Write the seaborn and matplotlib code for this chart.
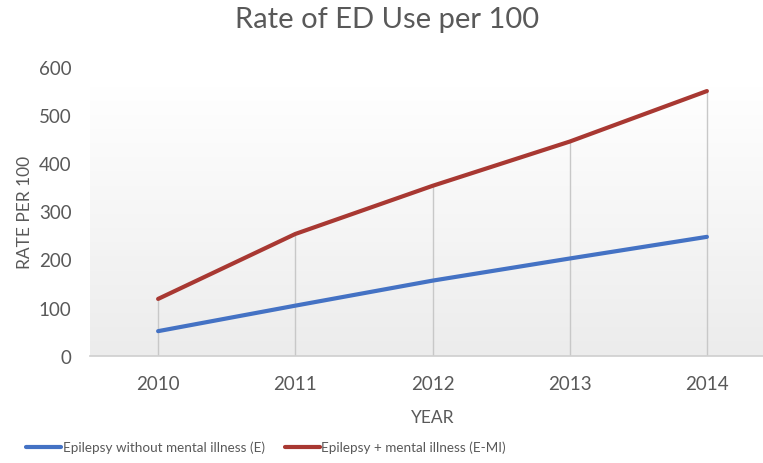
import numpy as np
import pandas as pd
import seaborn as sns
import matplotlib.pyplot as plt
from matplotlib.colors import LinearSegmentedColormap

# data
years = ["2010", "2011", "2012", "2013", "2014"]
rate_e = [51, 104, 156, 202, 247]
rate_emi = [118, 253, 353, 445, 550]
series_names = ["Epilepsy without mental illness (E)", "Epilepsy + mental illness (E-MI)"]
colors = ["#4472C4", "#A83832"]

df = pd.DataFrame({
    "year": years * 2,
    "rate": rate_e + rate_emi,
    "series": [series_names[0]] * len(years) + [series_names[1]] * len(years),
})

sns.set_theme(style="white")
plt.rcParams["font.family"] = ["Lato", "DejaVu Sans"]
txt = "#595959"

fig = plt.figure(figsize=(7.63, 4.64), dpi=100)
ax = fig.add_axes([89.5 / 763, 1 - 356.7 / 464, 686 / 763, 288.7 / 464])

# background gradient: light grey at the bottom fading to white at the top
grad = np.linspace(0, 1, 256).reshape(-1, 1)
bg = LinearSegmentedColormap.from_list("bg", ["#ECECEC", "#FFFFFF"])
ax.imshow(grad, cmap=bg, aspect="auto", extent=(-0.5, 4.5, 0, 560),
          origin="lower", zorder=0)

# drop lines from the upper series
ax.vlines(range(len(years)), 0, rate_emi, color="#C8C8C8", lw=1, zorder=1)

sns.lineplot(data=df, x="year", y="rate", hue="series", palette=colors,
             linewidth=3, ax=ax, zorder=3, sort=False)

ax.set_xlim(-0.5, 4.5)
ax.set_ylim(0, 600)
ax.set_yticks(range(0, 601, 100))
ax.tick_params(axis="both", length=0, labelsize=13.5, colors=txt)
ax.tick_params(axis="x", pad=14)
ax.tick_params(axis="y", pad=13)
for s in ["top", "right", "left"]:
    ax.spines[s].set_visible(False)
ax.spines["bottom"].set_color("#D0D0D0")
ax.grid(False)

ax.set_xlabel("YEAR", fontsize=12.5, color=txt, labelpad=12)
ax.set_ylabel("RATE PER 100", fontsize=12.5, color=txt, labelpad=4)
fig.suptitle("Rate of ED Use per 100", x=0.507, y=0.985, fontsize=21, color=txt)

ax.legend(loc="center", bbox_to_anchor=(266 / 763, 16 / 464), bbox_transform=fig.transFigure,
          ncol=2, frameon=False, fontsize=9.7, handlelength=2.6, handletextpad=0.1,
          columnspacing=1.5, labelcolor=txt)

fig.savefig("out.png", dpi=100)
